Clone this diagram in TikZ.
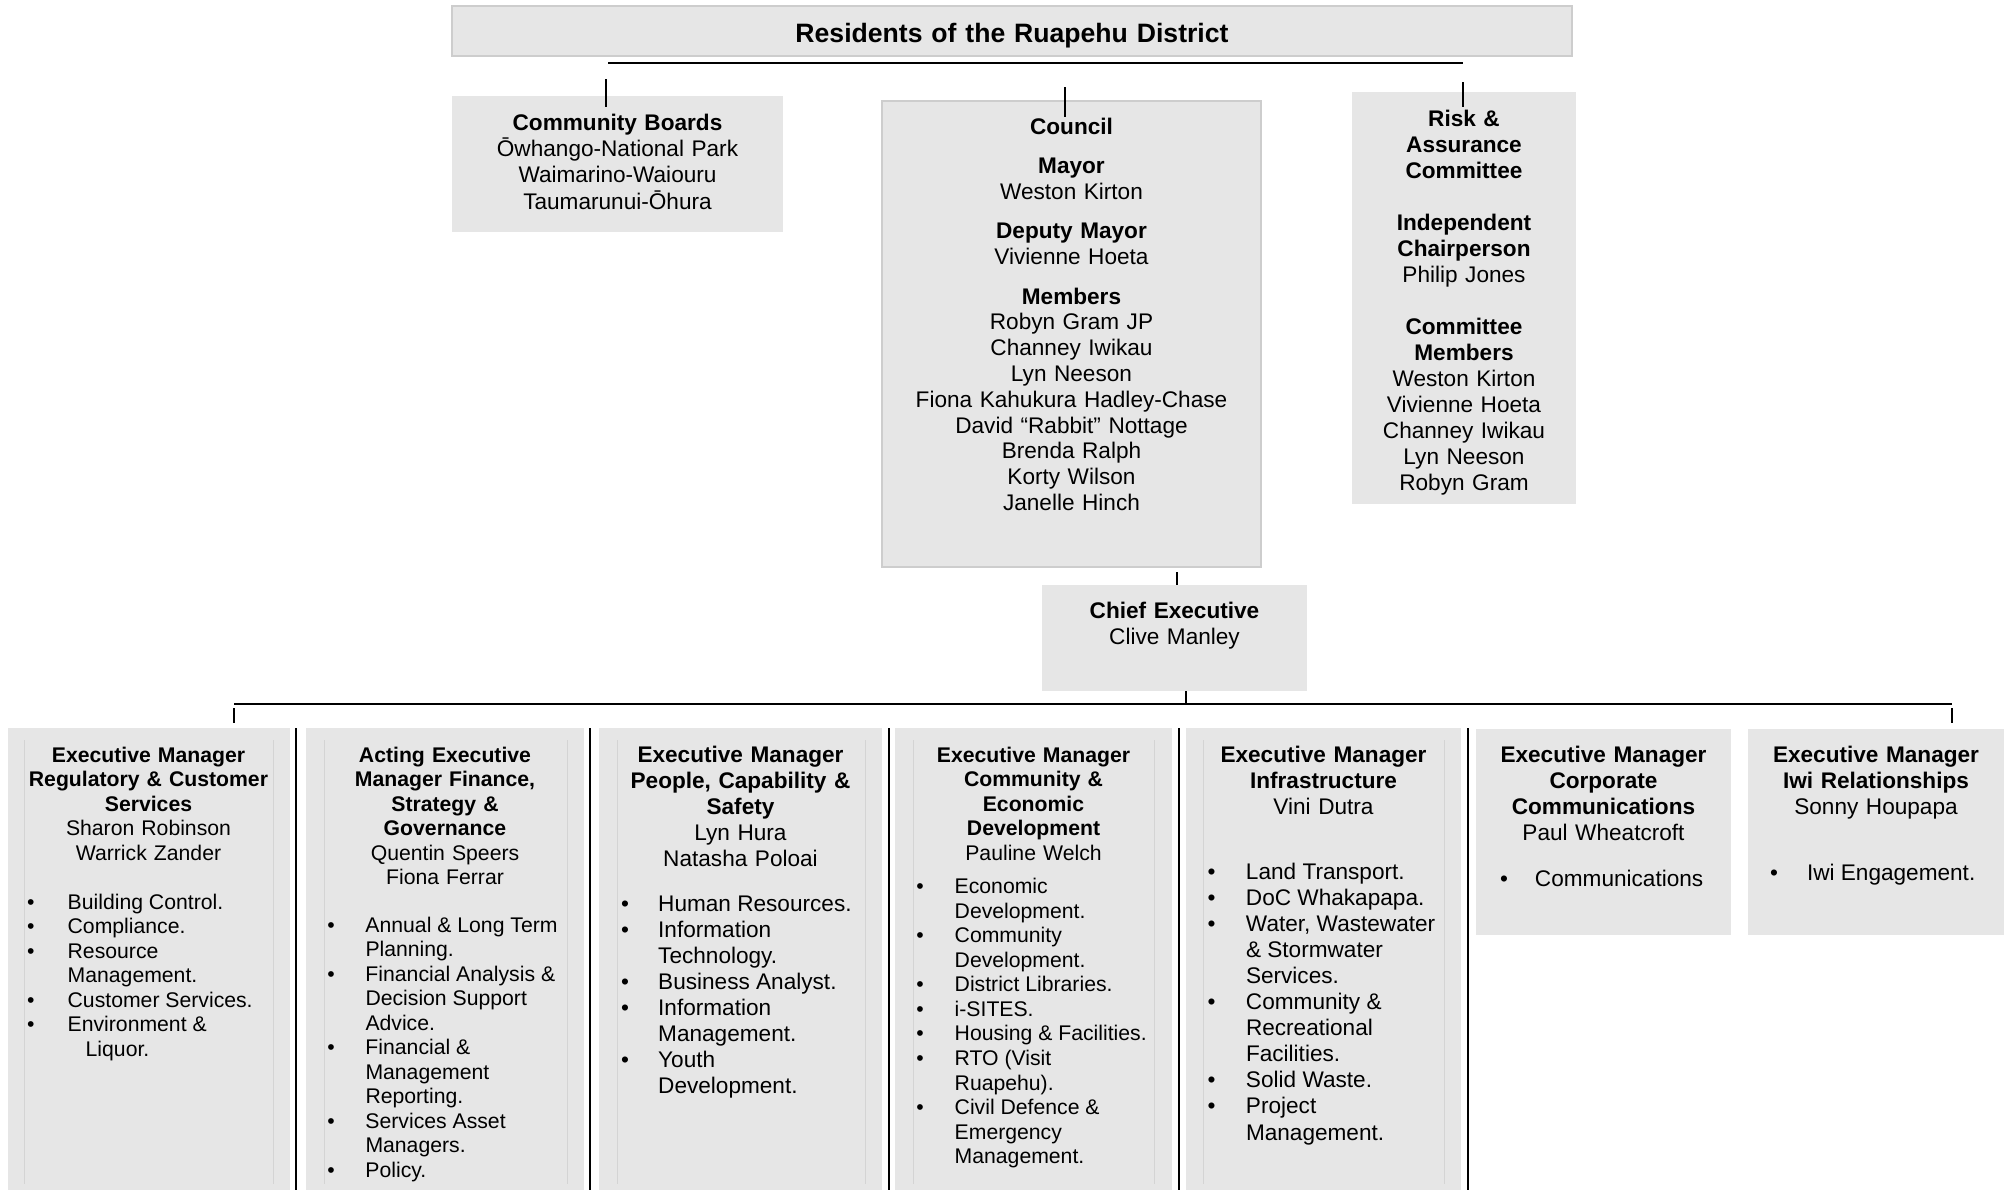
\documentclass[tikz,border=0pt]{standalone}
\usepackage{fontspec}
\setmainfont{Liberation Sans}
\usetikzlibrary{fit}
\definecolor{boxfill}{HTML}{E6E6E6}
\definecolor{boxline}{HTML}{CDCDCD}
\definecolor{innerline}{HTML}{D4D4D4}
\newcommand\ftitle{\fontsize{13.3}{15.5}\selectfont\bfseries}
\newcommand\fbig{\fontsize{11.3}{13}\selectfont}
\newcommand\fsmall{\fontsize{10.6}{12.27}\selectfont}
\newcommand\bul{\textbullet}
\begin{document}
\begin{tikzpicture}[x=0.5pt,y=-0.5pt,
  greybox/.style={fill=boxfill, draw=none, inner sep=0pt, outer sep=0pt},
  framedbox/.style={fill=boxfill, draw=boxline, line width=1pt, inner sep=0pt, outer sep=0pt},
  lbl/.style={inner sep=0pt, outer sep=0pt, align=center, text width=#1, anchor=base},
  lst/.style={inner sep=0pt, outer sep=0pt, anchor=base west},
  conn/.style={draw=black, line width=0.9pt},
  sep/.style={draw=black, line width=1pt},
  inner/.style={draw=innerline, line width=0.5pt}]
\useasboundingbox (0,0) rectangle (2004,1190);
\fill[white] (0,0) rectangle (2004,1190);

% ---------- boxes ----------
\node[framedbox, fit={(452,6) (1572,56)}] (top) {};
\node[greybox, fit={(452,96) (783,232)}] (cb) {};
\node[framedbox, fit={(882,101) (1261,567)}] (council) {};
\node[greybox, fit={(1352,92) (1576,504)}] (risk) {};
\node[greybox, fit={(1042,585) (1307,691)}] (ceo) {};
\node[greybox, fit={(8,728) (290,1190)}] (b1) {};
\node[greybox, fit={(306,728) (584,1190)}] (b2) {};
\node[greybox, fit={(599,728) (882,1190)}] (b3) {};
\node[greybox, fit={(895,728) (1172,1190)}] (b4) {};
\node[greybox, fit={(1186,728) (1461,1190)}] (b5) {};
\node[greybox, fit={(1476,729) (1731,935)}] (b6) {};
\node[greybox, fit={(1748,729) (2004,935)}] (b7) {};

% faint inner frames
\foreach \xa/\xb in {24/273, 324/567, 617/865, 913/1154, 1203/1444}{
  \draw[inner] (\xa,740) -- (\xa,1184);
  \draw[inner] (\xb,740) -- (\xb,1184);
}

% column separators
\foreach \xs in {296, 590, 889, 1179, 1468}{
  \draw[sep] (\xs,728) -- (\xs,1190);
}

% ---------- connectors ----------
\coordinate (hl) at (608,63);
\coordinate (hr) at (1463,63);
\draw[conn] (hl) -- (hr);
\coordinate (cbt1) at (606,79);  \coordinate (cbt2) at (606,107);
\draw[conn] (cbt1) -- (cbt2);
\coordinate (cot1) at (1065,87); \coordinate (cot2) at (1065,117);
\draw[conn] (cot1) -- (cot2);
\coordinate (rt1) at (1463,82);  \coordinate (rt2) at (1463,107);
\draw[conn] (rt1) -- (rt2);
\coordinate (cc) at (1177,572);
\draw[conn] (cc) -- (ceo.north -| cc);
\coordinate (cl) at (1186,704);
\draw[conn] (ceo.south -| cl) -- (cl);
\coordinate (bl) at (234,704);
\coordinate (br) at (1952,704);
\draw[conn] (bl) -- (br);
\coordinate (blt1) at (234,708); \coordinate (blt2) at (234,723);
\draw[conn] (blt1) -- (blt2);
\coordinate (brt1) at (1952,708); \coordinate (brt2) at (1952,723);
\draw[conn] (brt1) -- (brt2);

% ---------- texts ----------
\node[lbl=500pt, font=\ftitle] (toptext) at (1012,42.2) {Residents of the Ruapehu District};

\node[lbl=150pt, font=\fontsize{11.3}{13.2}\selectfont] (cbtext) at (617.5,130)
  {\textbf{Community Boards}\\Ōwhango-National Park\\Waimarino-Waiouru\\Taumarunui-Ōhura};

\node[lbl=180pt, font=\fontsize{11.3}{12.9}\selectfont] (counciltext) at (1071.5,134.2)
  {\textbf{Council}\\[6.8pt]\textbf{Mayor}\\Weston Kirton\\[6.8pt]\textbf{Deputy Mayor}\\Vivienne Hoeta\\[6.8pt]\textbf{Members}\\Robyn Gram JP\\Channey Iwikau\\Lyn Neeson\\Fiona Kahukura Hadley-Chase\\David “Rabbit” Nottage\\Brenda Ralph\\Korty Wilson\\Janelle Hinch};

\node[lbl=105pt, font=\fontsize{11.3}{13}\selectfont] (risktext) at (1464,126.3)
  {\textbf{Risk \&}\\\textbf{Assurance}\\\textbf{Committee}\\[13pt]\textbf{Independent}\\\textbf{Chairperson}\\Philip Jones\\[13pt]\textbf{Committee}\\\textbf{Members}\\Weston Kirton\\Vivienne Hoeta\\Channey Iwikau\\Lyn Neeson\\Robyn Gram};

\node[lbl=120pt, font=\fontsize{11.3}{13.2}\selectfont] (ceotext) at (1174.5,618.5)
  {\textbf{Chief Executive}\\Clive Manley};

% bottom headings
\node[lbl=140pt, font=\fsmall] (h1) at (148.5,762)
  {\textbf{Executive Manager}\\\textbf{Regulatory \& Customer}\\\textbf{Services}\\Sharon Robinson\\Warrick Zander};
\node[lbl=140pt, font=\fsmall] (h2) at (445,762)
  {\textbf{Acting Executive}\\\textbf{Manager Finance,}\\\textbf{Strategy \&}\\\textbf{Governance}\\Quentin Speers\\Fiona Ferrar};
\node[lbl=140pt, font=\fbig] (h3) at (740.5,762.5)
  {\textbf{Executive Manager}\\\textbf{People, Capability \&}\\\textbf{Safety}\\Lyn Hura\\Natasha Poloai};
\node[lbl=140pt, font=\fsmall] (h4) at (1033.5,762)
  {\textbf{Executive Manager}\\\textbf{Community \&}\\\textbf{Economic}\\\textbf{Development}\\Pauline Welch};
\node[lbl=140pt, font=\fbig] (h5) at (1323.5,762.5)
  {\textbf{Executive Manager}\\\textbf{Infrastructure}\\Vini Dutra};
\node[lbl=140pt, font=\fbig] (h6) at (1603.5,762.5)
  {\textbf{Executive Manager}\\\textbf{Corporate}\\\textbf{Communications}\\Paul Wheatcroft};
\node[lbl=140pt, font=\fbig] (h7) at (1876,762.5)
  {\textbf{Executive Manager}\\\textbf{Iwi Relationships}\\Sonny Houpapa};

% bullet lists
\node[lst] (l1) at (27,909) {\fsmall\begin{tabular}[t]{@{}p{20.35pt}@{}l@{}}
\bul & Building Control.\\
\bul & Compliance.\\
\bul & Resource\\
 & Management.\\
\bul & Customer Services.\\
\bul & Environment \&\\
 & \hspace{9pt}Liquor.
\end{tabular}};

\node[lst] (l2) at (327.3,932) {\fsmall\begin{tabular}[t]{@{}p{19.1pt}@{}l@{}}
\bul & Annual \& Long Term\\
 & Planning.\\
\bul & Financial Analysis \&\\
 & Decision Support\\
 & Advice.\\
\bul & Financial \&\\
 & Management\\
 & Reporting.\\
\bul & Services Asset\\
 & Managers.\\
\bul & Policy.
\end{tabular}};

\node[lst] (l3) at (621,911) {\fontsize{11.3}{13.05}\selectfont\begin{tabular}[t]{@{}p{18.6pt}@{}l@{}}
\bul & Human Resources.\\
\bul & Information\\
 & Technology.\\
\bul & Business Analyst.\\
\bul & Information\\
 & Management.\\
\bul & Youth\\
 & Development.
\end{tabular}};

\node[lst] (l4) at (916.3,893.7) {\fsmall\begin{tabular}[t]{@{}p{19.2pt}@{}l@{}}
\bul & Economic\\
 & Development.\\
\bul & Community\\
 & Development.\\
\bul & District Libraries.\\
\bul & i-SITES.\\
\bul & Housing \& Facilities.\\
\bul & RTO (Visit\\
 & Ruapehu).\\
\bul & Civil Defence \&\\
 & Emergency\\
 & Management.
\end{tabular}};

\node[lst] (l5) at (1207.5,879) {\fontsize{11.3}{13.05}\selectfont\begin{tabular}[t]{@{}p{19.25pt}@{}l@{}}
\bul & Land Transport.\\
\bul & DoC Whakapapa.\\
\bul & Water, Wastewater\\
 & \& Stormwater\\
 & Services.\\
\bul & Community \&\\
 & Recreational\\
 & Facilities.\\
\bul & Solid Waste.\\
\bul & Project\\
 & Management.
\end{tabular}};

\node[lst] (l6) at (1500,886.5) {\fbig\begin{tabular}[t]{@{}p{17.5pt}@{}l@{}}
\bul & Communications
\end{tabular}};

\node[lst] (l7) at (1770,880.1) {\fbig\begin{tabular}[t]{@{}p{18.5pt}@{}l@{}}
\bul & Iwi Engagement.
\end{tabular}};
\end{tikzpicture}
\end{document}
